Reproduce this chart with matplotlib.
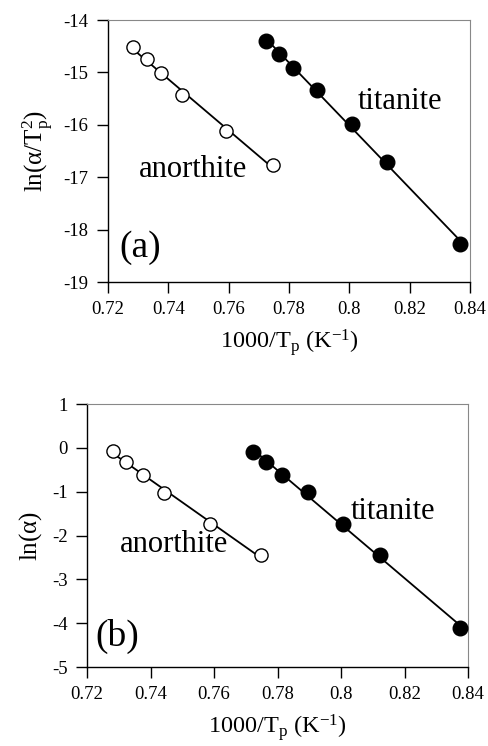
import numpy as np
import matplotlib
matplotlib.use("Agg")
import matplotlib.pyplot as plt

plt.rcParams['font.family'] = ['Liberation Serif', 'DejaVu Serif']
plt.rcParams['mathtext.fontset'] = 'custom'
plt.rcParams['mathtext.rm'] = 'Liberation Serif'
plt.rcParams['mathtext.it'] = 'Liberation Serif:italic'
plt.rcParams['axes.unicode_minus'] = False

# panel (a): ln(alpha/Tp^2)
an_x_a = [0.7284, 0.7328, 0.7376, 0.7445, 0.7590, 0.7748]
an_y_a = [-14.51, -14.75, -15.02, -15.43, -16.11, -16.77]
ti_x_a = [0.7723, 0.7768, 0.7814, 0.7894, 0.8008, 0.8124, 0.8368]
ti_y_a = [-14.41, -14.64, -14.91, -15.34, -15.99, -16.71, -18.28]

# panel (b): ln(alpha)
an_x_b = [0.7283, 0.7324, 0.7377, 0.7443, 0.7587, 0.7747]
an_y_b = [-0.08, -0.33, -0.61, -1.03, -1.73, -2.45]
ti_x_b = [0.7724, 0.7764, 0.7813, 0.7897, 0.8006, 0.8123, 0.8374]
ti_y_b = [-0.09, -0.33, -0.63, -1.01, -1.74, -2.45, -4.11]

xticks = [0.72, 0.74, 0.76, 0.78, 0.8, 0.82, 0.84]
xticklabels = ['0.72', '0.74', '0.76', '0.78', '0.8', '0.82', '0.84']

fig = plt.figure(figsize=(4.88, 7.46), dpi=100)
W, H = 488, 746
ax1 = fig.add_axes([108 / W, 1 - 282 / H, (470 - 108) / W, (282 - 20) / H])
ax2 = fig.add_axes([87 / W, 1 - 667 / H, (468 - 87) / W, (667 - 404) / H])


def fitline(ax, x, y):
    x = np.array(x)
    p = np.polyfit(x, y, 1)
    xs = np.array([x.min(), x.max()])
    ax.plot(xs, np.polyval(p, xs), color='black', lw=1.3, zorder=2)


def panel(ax, ax_, ay_, tx_, ty_, ylim, yticks, ylabel, tag, pos):
    fitline(ax, ax_, ay_)
    fitline(ax, tx_, ty_)
    ax.plot(ax_, ay_, 'o', ms=9.5, mfc='white', mec='black', mew=1.0, zorder=3)
    ax.plot(tx_, ty_, 'o', ms=10.5, mfc='black', mec='black', zorder=3)
    ax.set_xlim(0.72, 0.84)
    ax.set_ylim(*ylim)
    ax.set_xticks(xticks)
    ax.set_xticklabels(xticklabels)
    ax.set_yticks(yticks)
    ax.tick_params(direction='out', length=8, width=1, labelsize=13.5, pad=6)
    for s in ['top', 'right']:
        ax.spines[s].set_color('#888888')
        ax.spines[s].set_linewidth(0.8)
    for s in ['left', 'bottom']:
        ax.spines[s].set_linewidth(1.0)
    ax.set_xlabel('1000/T$_\\mathrm{p}$ (K$^{-1}$)', fontsize=17.5, labelpad=6)
    ax.set_ylabel(ylabel, fontsize=18, labelpad=6)
    ax.text(pos[0][0], pos[0][1], 'titanite', fontsize=22, ha='center', va='center')
    ax.text(pos[1][0], pos[1][1], 'anorthite', fontsize=22, ha='center', va='center')
    ax.text(pos[2][0], pos[2][1], tag, fontsize=27, ha='center', va='center')


panel(ax1, an_x_a, an_y_a, ti_x_a, ti_y_a, (-19, -14), [-19, -18, -17, -16, -15, -14],
      'ln($\\mathrm{\\alpha}$/T$_\\mathrm{p}^\\mathrm{2}$)', '(a)',
      [(0.8168, -15.56), (0.7482, -16.86), (0.7306, -18.35)])
panel(ax2, an_x_b, an_y_b, ti_x_b, ti_y_b, (-5, 1), [-5, -4, -3, -2, -1, 0, 1],
      'ln($\\mathrm{\\alpha}$)', '(b)',
      [(0.8165, -1.45), (0.7475, -2.2), (0.7295, -4.3)])

fig.savefig('out.png', dpi=100)
